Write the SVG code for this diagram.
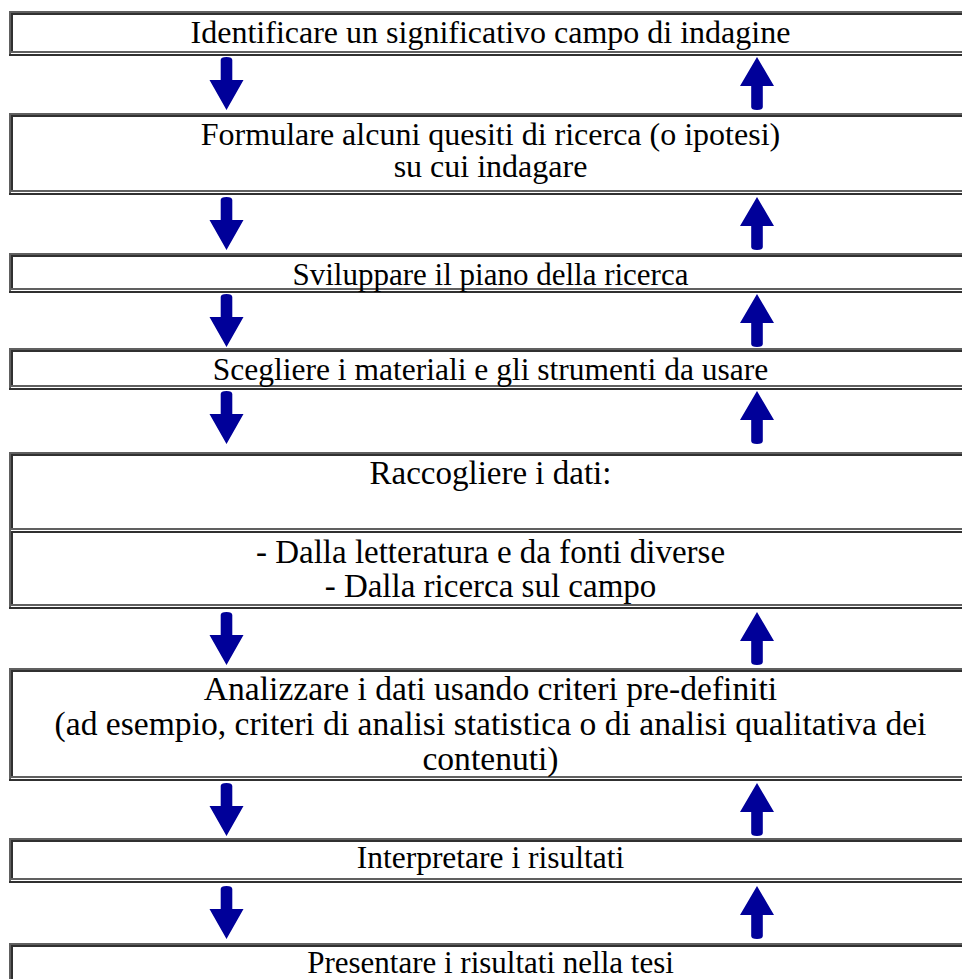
<svg xmlns="http://www.w3.org/2000/svg" width="962" height="979" viewBox="0 0 962 979">
<style>
.lt{fill:#606060}
.dk{fill:#303030}
text{font-family:"Liberation Serif","Times New Roman",serif;font-size:31px;fill:#000;text-anchor:middle}
.f32 text{font-size:32px}
.f33 text{font-size:33px}
.f335 text{font-size:33.6px}
.f315 text{font-size:31.5px}
.arr{fill:#000099}
</style>
<defs>
<path id="down" d="M-5.8,3 Q-5.8,0 0,0 Q5.8,0 5.8,3 L5.8,23 L17,23 L0,53 L-17,23 L-5.8,23 Z"/>
<path id="up" d="M0,0 L17,29 L5.8,29 L5.8,50 Q5.8,53 0,53 Q-5.8,53 -5.8,50 L-5.8,29 L-17,29 Z"/>
</defs>
<rect width="962" height="979" fill="#fff"/>

<g id="box1" class="f32">
<rect class="lt" x="9" y="11" width="953" height="2"/><rect class="lt" x="9" y="11" width="2" height="45"/><rect class="dk" x="9" y="54" width="953" height="2"/>
<rect class="dk" x="11" y="13" width="951" height="2"/><rect class="dk" x="11" y="13" width="2" height="39"/><rect class="lt" x="11" y="51" width="951" height="2"/>
<text x="490.5" y="43">Identificare un significativo campo di indagine</text>
</g>

<g id="box2" class="f32">
<rect class="lt" x="9" y="113" width="953" height="2"/><rect class="lt" x="9" y="113" width="2" height="82"/><rect class="dk" x="9" y="193" width="953" height="2"/>
<rect class="dk" x="11" y="115" width="951" height="2"/><rect class="dk" x="11" y="115" width="2" height="76"/><rect class="lt" x="11" y="190" width="951" height="2"/>
<text x="490.5" y="145">Formulare alcuni quesiti di ricerca (o ipotesi)</text>
<text x="490.5" y="177">su cui indagare</text>
</g>

<g id="box3">
<rect class="lt" x="9" y="253" width="953" height="2"/><rect class="lt" x="9" y="253" width="2" height="40"/><rect class="dk" x="9" y="291" width="953" height="2"/>
<rect class="dk" x="11" y="255" width="951" height="2"/><rect class="dk" x="11" y="255" width="2" height="34"/><rect class="lt" x="11" y="288" width="951" height="2"/>
<text x="490.5" y="285">Sviluppare il piano della ricerca</text>
</g>

<g id="box4" class="f315">
<rect class="lt" x="9" y="348" width="953" height="2"/><rect class="lt" x="9" y="348" width="2" height="42"/><rect class="dk" x="9" y="388" width="953" height="2"/>
<rect class="dk" x="11" y="350" width="951" height="2"/><rect class="dk" x="11" y="350" width="2" height="36"/><rect class="lt" x="11" y="385" width="951" height="2"/>
<text x="490.5" y="380">Scegliere i materiali e gli strumenti da usare</text>
</g>

<g id="box5" class="f33">
<rect class="lt" x="9" y="452" width="953" height="2"/><rect class="lt" x="9" y="452" width="2" height="157"/><rect class="dk" x="9" y="607" width="953" height="2"/>
<rect class="dk" x="11" y="454" width="951" height="2"/><rect class="dk" x="11" y="454" width="2" height="75"/><rect class="lt" x="11" y="528" width="951" height="2"/>
<rect class="dk" x="11" y="531" width="951" height="2"/><rect class="dk" x="11" y="531" width="2" height="73"/><rect class="lt" x="11" y="604" width="951" height="2"/>
<text x="490.5" y="484">Raccogliere i dati:</text>
<text x="490.5" y="563">- Dalla letteratura e da fonti diverse</text>
<text x="490.5" y="597">- Dalla ricerca sul campo</text>
</g>

<g id="box6" class="f335">
<rect class="lt" x="9" y="668" width="953" height="2"/><rect class="lt" x="9" y="668" width="2" height="113"/><rect class="dk" x="9" y="779" width="953" height="2"/>
<rect class="dk" x="11" y="670" width="951" height="2"/><rect class="dk" x="11" y="670" width="2" height="107"/><rect class="lt" x="11" y="776" width="951" height="2"/>
<text x="490.5" y="700">Analizzare i dati usando criteri pre-definiti</text>
<text x="490.5" y="735">(ad esempio, criteri di analisi statistica o di analisi qualitativa dei</text>
<text x="490.5" y="770">contenuti)</text>
</g>

<g id="box7" class="f315">
<rect class="lt" x="9" y="838" width="953" height="2"/><rect class="lt" x="9" y="838" width="2" height="45"/><rect class="dk" x="9" y="881" width="953" height="2"/>
<rect class="dk" x="11" y="840" width="951" height="2"/><rect class="dk" x="11" y="840" width="2" height="39"/><rect class="lt" x="11" y="878" width="951" height="2"/>
<text x="490.5" y="868">Interpretare i risultati</text>
</g>

<g id="box8">
<rect class="lt" x="9" y="943" width="953" height="2"/><rect class="lt" x="9" y="943" width="2" height="40"/>
<rect class="dk" x="11" y="945" width="951" height="2"/><rect class="dk" x="11" y="945" width="2" height="40"/>
<text x="490.5" y="973">Presentare i risultati nella tesi</text>
</g>

<g id="connectors" class="arr">
<use href="#down" x="226.5" y="57"/><use href="#up" x="757" y="57"/>
<use href="#down" x="226.5" y="197"/><use href="#up" x="757" y="197"/>
<use href="#down" x="226.5" y="294"/><use href="#up" x="757" y="294"/>
<use href="#down" x="226.5" y="391"/><use href="#up" x="757" y="391"/>
<use href="#down" x="226.5" y="612"/><use href="#up" x="757" y="612"/>
<use href="#down" x="226.5" y="783"/><use href="#up" x="757" y="783"/>
<use href="#down" x="226.5" y="886"/><use href="#up" x="757" y="886"/>
</g>
</svg>
